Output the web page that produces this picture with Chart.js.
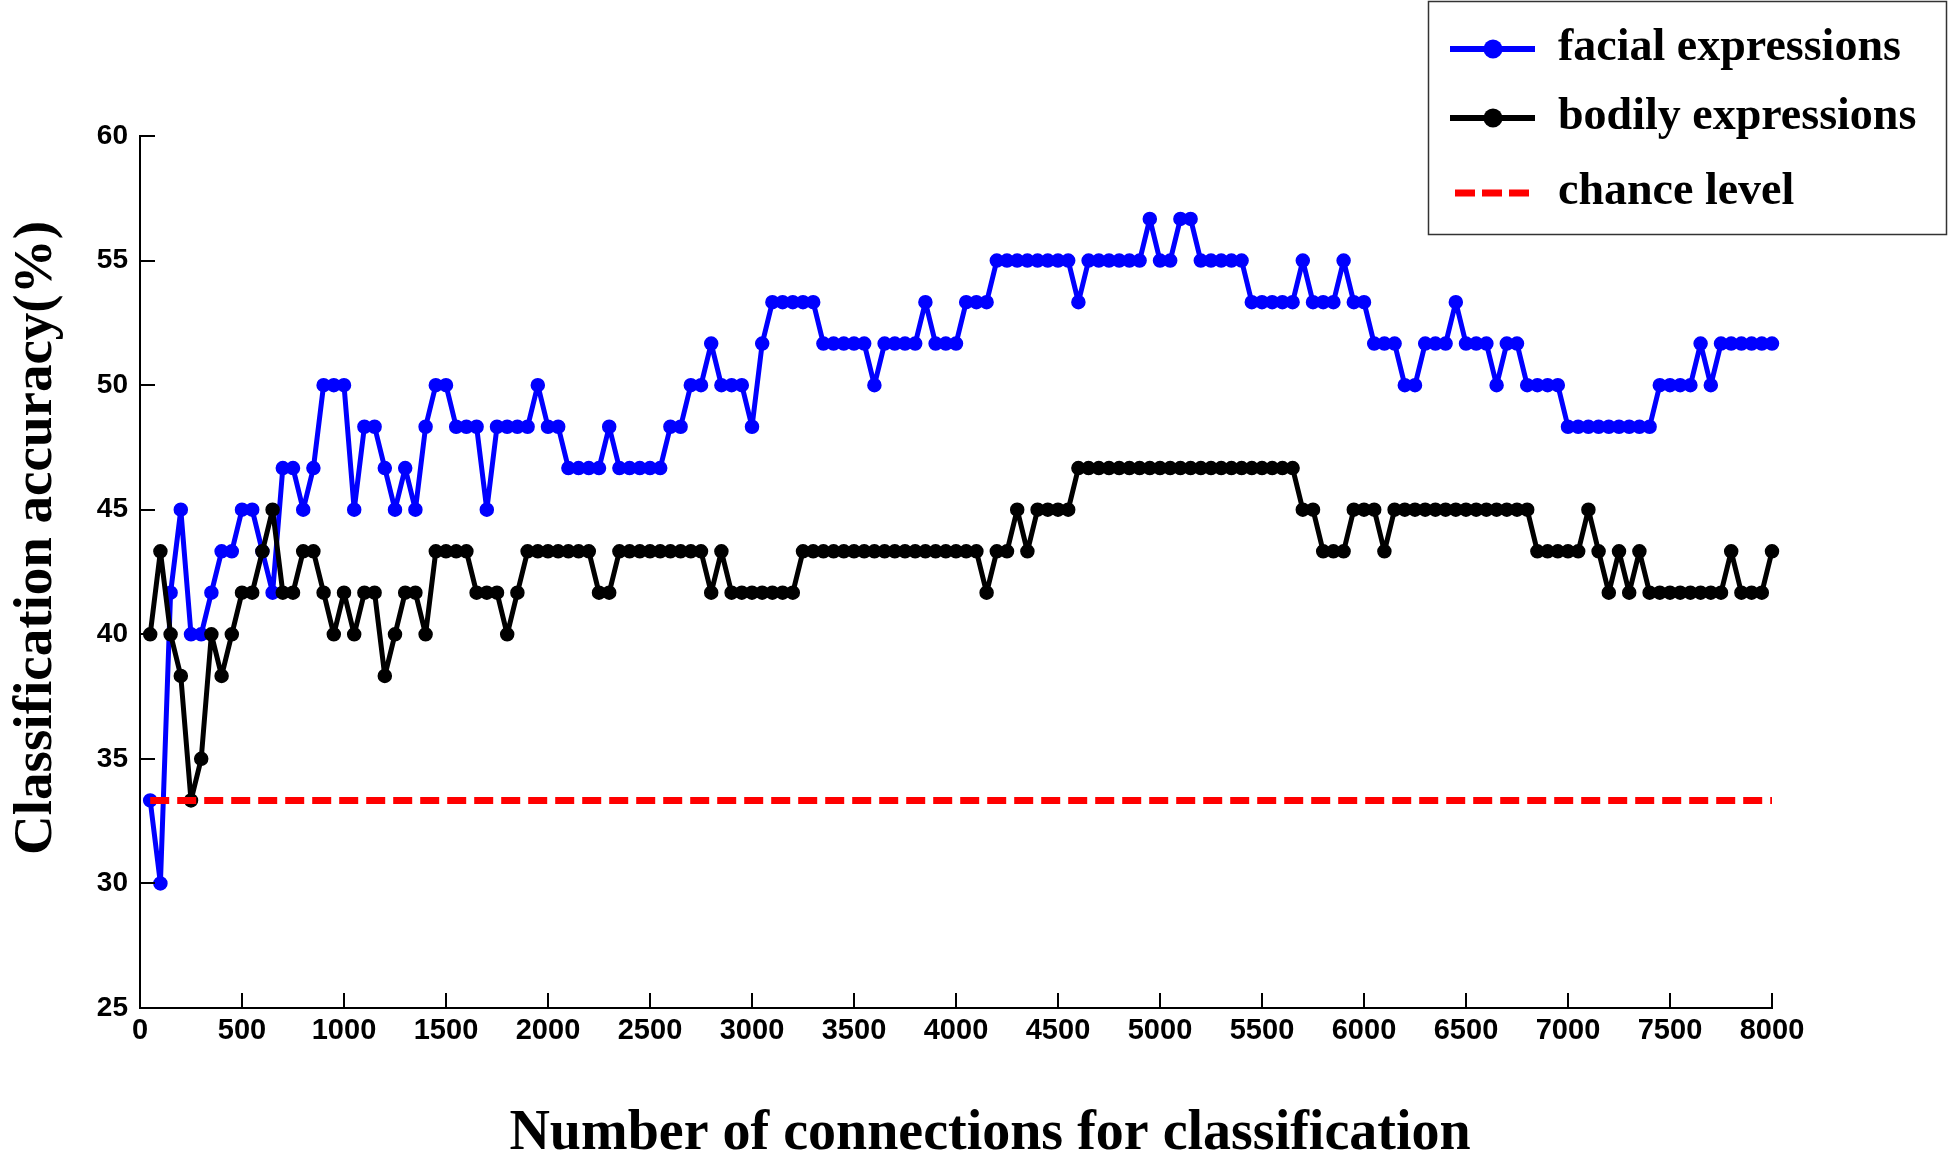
<!DOCTYPE html>
<html>
<head>
<meta charset="utf-8">
<script src="https://cdn.jsdelivr.net/npm/chart.js@4.4.1/dist/chart.umd.min.js"></script>
<style>
html,body{margin:0;padding:0;background:#ffffff;overflow:hidden}
canvas{display:block}
</style>
</head>
<body>
<canvas id="c" width="1950" height="1155"></canvas>
<script>
// ---------- data ----------
const connections = Array.from({length: 160}, (_, i) => 50 + 50 * i); // x grid: 50 .. 8000

const facialExpressions = [
  33.33, 30, 41.67, 45, 40, 40, 41.67, 43.33, 43.33, 45,
  45, 43.33, 41.67, 46.67, 46.67, 45, 46.67, 50, 50, 50,
  45, 48.33, 48.33, 46.67, 45, 46.67, 45, 48.33, 50, 50,
  48.33, 48.33, 48.33, 45, 48.33, 48.33, 48.33, 48.33, 50, 48.33,
  48.33, 46.67, 46.67, 46.67, 46.67, 48.33, 46.67, 46.67, 46.67, 46.67,
  46.67, 48.33, 48.33, 50, 50, 51.67, 50, 50, 50, 48.33,
  51.67, 53.33, 53.33, 53.33, 53.33, 53.33, 51.67, 51.67, 51.67, 51.67,
  51.67, 50, 51.67, 51.67, 51.67, 51.67, 53.33, 51.67, 51.67, 51.67,
  53.33, 53.33, 53.33, 55, 55, 55, 55, 55, 55, 55,
  55, 53.33, 55, 55, 55, 55, 55, 55, 56.67, 55,
  55, 56.67, 56.67, 55, 55, 55, 55, 55, 53.33, 53.33,
  53.33, 53.33, 53.33, 55, 53.33, 53.33, 53.33, 55, 53.33, 53.33,
  51.67, 51.67, 51.67, 50, 50, 51.67, 51.67, 51.67, 53.33, 51.67,
  51.67, 51.67, 50, 51.67, 51.67, 50, 50, 50, 50, 48.33,
  48.33, 48.33, 48.33, 48.33, 48.33, 48.33, 48.33, 48.33, 50, 50,
  50, 50, 51.67, 50, 51.67, 51.67, 51.67, 51.67, 51.67, 51.67
];

const bodilyExpressions = [
  40, 43.33, 40, 38.33, 33.33, 35, 40, 38.33, 40, 41.67,
  41.67, 43.33, 45, 41.67, 41.67, 43.33, 43.33, 41.67, 40, 41.67,
  40, 41.67, 41.67, 38.33, 40, 41.67, 41.67, 40, 43.33, 43.33,
  43.33, 43.33, 41.67, 41.67, 41.67, 40, 41.67, 43.33, 43.33, 43.33,
  43.33, 43.33, 43.33, 43.33, 41.67, 41.67, 43.33, 43.33, 43.33, 43.33,
  43.33, 43.33, 43.33, 43.33, 43.33, 41.67, 43.33, 41.67, 41.67, 41.67,
  41.67, 41.67, 41.67, 41.67, 43.33, 43.33, 43.33, 43.33, 43.33, 43.33,
  43.33, 43.33, 43.33, 43.33, 43.33, 43.33, 43.33, 43.33, 43.33, 43.33,
  43.33, 43.33, 41.67, 43.33, 43.33, 45, 43.33, 45, 45, 45,
  45, 46.67, 46.67, 46.67, 46.67, 46.67, 46.67, 46.67, 46.67, 46.67,
  46.67, 46.67, 46.67, 46.67, 46.67, 46.67, 46.67, 46.67, 46.67, 46.67,
  46.67, 46.67, 46.67, 45, 45, 43.33, 43.33, 43.33, 45, 45,
  45, 43.33, 45, 45, 45, 45, 45, 45, 45, 45,
  45, 45, 45, 45, 45, 45, 43.33, 43.33, 43.33, 43.33,
  43.33, 45, 43.33, 41.67, 43.33, 41.67, 43.33, 41.67, 41.67, 41.67,
  41.67, 41.67, 41.67, 41.67, 41.67, 43.33, 41.67, 41.67, 41.67, 43.33
];

const chanceLevel = 33.33;
const chanceSpan = [50, 8000];

const seriesNames = ['facial expressions', 'bodily expressions', 'chance level'];
const xTickValues = [0, 500, 1000, 1500, 2000, 2500, 3000, 3500, 4000, 4500, 5000, 5500, 6000, 6500, 7000, 7500, 8000];
const yTickValues = [25, 30, 35, 40, 45, 50, 55, 60];
const xTitle = 'Number of connections for classification';
const yTitle = 'Classification accuracy(%)';

// ---------- styling / layout ----------
const SANS = '"Liberation Sans", Arial, sans-serif';
const SERIF = '"Liberation Serif", "Times New Roman", serif';
const AREA = {left: 140, right: 1772, top: 136, bottom: 1008};

const toPoints = (xs, ys) => xs.map((x, i) => ({x: x, y: ys[i]}));

const datasets = [
  {
    label: seriesNames[2],
    data: chanceSpan.map(x => ({x: x, y: chanceLevel})),
    borderColor: '#ff0000',
    backgroundColor: '#ff0000',
    borderWidth: 7,
    borderDash: [19, 8],
    pointRadius: 0,
    order: 0,
    clip: false
  },
  {
    label: seriesNames[1],
    data: toPoints(connections, bodilyExpressions),
    borderColor: '#000000',
    backgroundColor: '#000000',
    borderWidth: 5,
    borderJoinStyle: 'round',
    borderCapStyle: 'round',
    pointRadius: 6.5,
    pointBorderWidth: 1.5,
    pointBackgroundColor: '#000000',
    pointBorderColor: '#000000',
    order: 1,
    clip: false
  },
  {
    label: seriesNames[0],
    data: toPoints(connections, facialExpressions),
    borderColor: '#0000ff',
    backgroundColor: '#0000ff',
    borderWidth: 5,
    borderJoinStyle: 'round',
    borderCapStyle: 'round',
    pointRadius: 6.5,
    pointBorderWidth: 1.5,
    pointBackgroundColor: '#0000ff',
    pointBorderColor: '#0000ff',
    order: 2,
    clip: false
  }
];

const decor = {
  id: 'decor',
  afterDraw(chart) {
    const {ctx, scales, chartArea: a} = chart;
    const xs = scales.x, ys = scales.y;
    ctx.save();
    // inward tick marks
    ctx.strokeStyle = '#000';
    ctx.lineWidth = 2;
    ctx.beginPath();
    xs.ticks.forEach(t => {
      const px = Math.round(xs.getPixelForValue(t.value));
      ctx.moveTo(px, a.bottom); ctx.lineTo(px, a.bottom - 15);
    });
    ys.ticks.forEach(t => {
      const py = Math.round(ys.getPixelForValue(t.value));
      ctx.moveTo(a.left, py); ctx.lineTo(a.left + 15, py);
    });
    ctx.stroke();

    // axis titles
    ctx.fillStyle = '#000';
    ctx.font = 'bold 56px ' + SERIF;
    ctx.textAlign = 'center';
    ctx.textBaseline = 'alphabetic';
    ctx.fillText(xTitle, 990, 1149);

    ctx.save();
    ctx.translate(51, 538);
    ctx.rotate(-Math.PI / 2);
    ctx.font = 'bold 55px ' + SERIF;
    ctx.fillText(yTitle, 0, 0);
    ctx.restore();

    // legend
    ctx.lineWidth = 1.5;
    ctx.strokeStyle = '#333';
    ctx.strokeRect(1428.5, 1.5, 518, 233);
    const order = [2, 1, 0];
    const rows = [49, 118, 193];
    order.forEach((di, r) => {
      const ds = chart.data.datasets[di];
      const yRow = rows[r];
      ctx.save();
      ctx.strokeStyle = ds.borderColor;
      if (ds.borderDash) {
        ctx.lineWidth = 7;
        ctx.setLineDash([20, 7]);
        ctx.beginPath(); ctx.moveTo(1455, yRow); ctx.lineTo(1530, yRow); ctx.stroke();
      } else {
        ctx.lineWidth = 6;
        ctx.beginPath(); ctx.moveTo(1450, yRow); ctx.lineTo(1535, yRow); ctx.stroke();
        ctx.fillStyle = ds.pointBackgroundColor;
        ctx.beginPath(); ctx.arc(1493, yRow, 9.5, 0, Math.PI * 2); ctx.fill();
      }
      ctx.restore();
      ctx.fillStyle = '#000';
      ctx.font = 'bold 46px ' + SERIF;
      ctx.textAlign = 'left';
      ctx.textBaseline = 'alphabetic';
      ctx.fillText(ds.label, 1558, yRow + 11);
    });
    ctx.restore();
  }
};

new Chart(document.getElementById('c'), {
  type: 'line',
  data: {datasets: datasets},
  plugins: [decor],
  options: {
    responsive: false,
    animation: false,
    devicePixelRatio: 1,
    layout: {padding: {top: AREA.top, right: 1950 - AREA.right, left: 0, bottom: 0}},
    plugins: {legend: {display: false}, tooltip: {enabled: false}, title: {display: false}},
    elements: {line: {tension: 0}},
    scales: {
      x: {
        type: 'linear',
        min: 0, max: 8000,
        afterBuildTicks: s => { s.ticks = xTickValues.map(v => ({value: v})); },
        afterFit: s => { s.height = 1155 - AREA.bottom; },
        grid: {display: false, drawTicks: false},
        border: {display: true, color: '#000', width: 2},
        ticks: {
          autoSkip: false, maxRotation: 0, padding: 6, color: '#000',
          font: {family: SANS, size: 29, weight: 'bold'},
          callback: v => String(v)
        }
      },
      y: {
        type: 'linear',
        min: 25, max: 60,
        afterBuildTicks: s => { s.ticks = yTickValues.map(v => ({value: v})); },
        afterFit: s => { s.width = AREA.left; },
        grid: {display: false, drawTicks: false},
        border: {display: true, color: '#000', width: 2},
        ticks: {
          autoSkip: false, padding: 12, color: '#000',
          font: {family: SANS, size: 28, weight: 'bold'},
          callback: v => String(v)
        }
      }
    }
  }
});
</script>
</body>
</html>
